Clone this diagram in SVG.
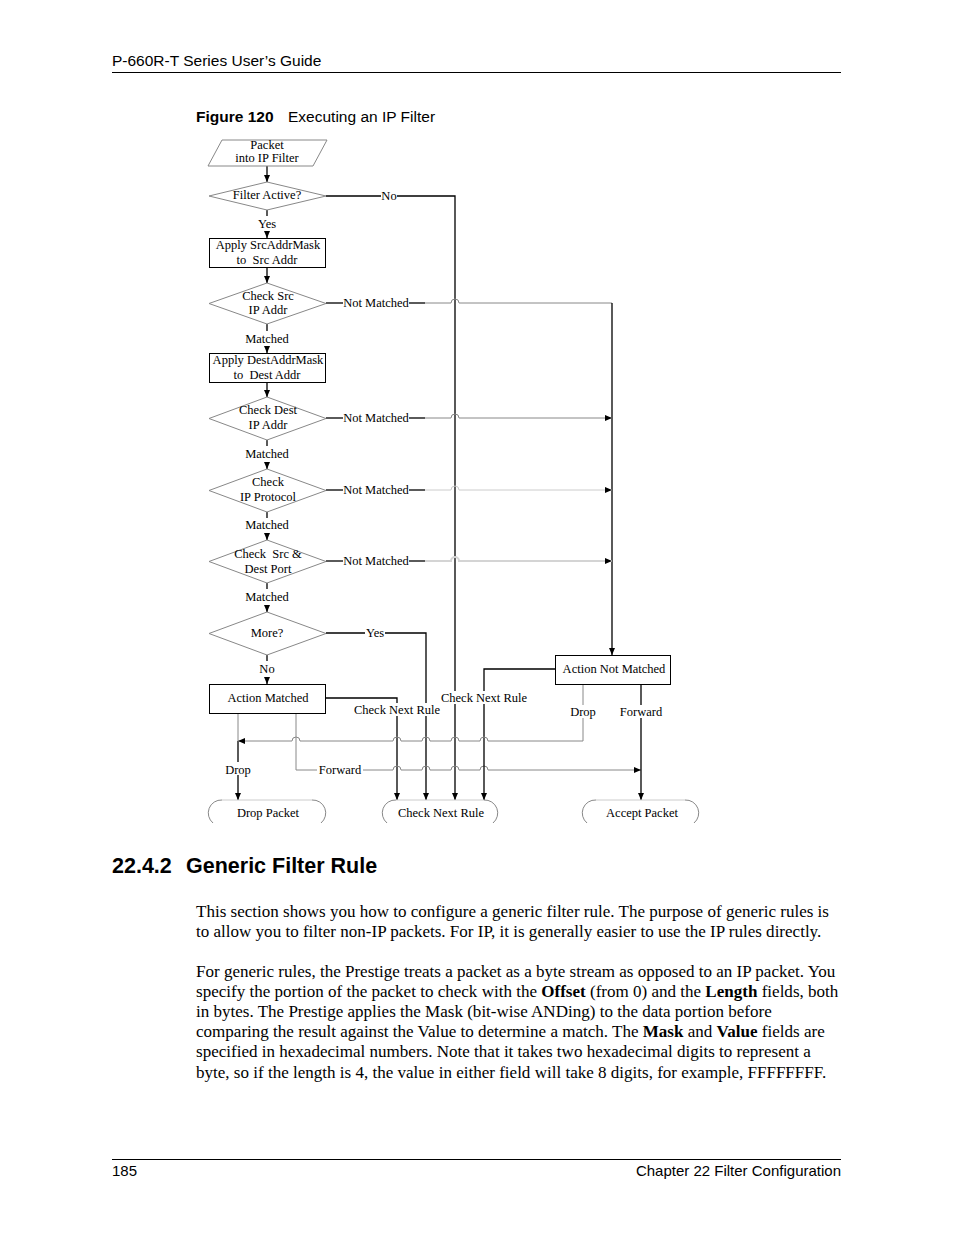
<svg xmlns="http://www.w3.org/2000/svg" width="954" height="1235" viewBox="0 0 954 1235">
<style>
.hdr{font-family:"Liberation Sans",Arial,sans-serif;font-size:15.5px;fill:#000}
.ftr{font-family:"Liberation Sans",Arial,sans-serif;font-size:15px;fill:#000}
.fc{font-family:"Liberation Serif","Times New Roman",serif;font-size:12.5px;fill:#000}
.body{font-family:"Liberation Serif","Times New Roman",serif;font-size:17.05px;fill:#000}
.shape{fill:#fff;stroke:#888;stroke-width:1}
.box{fill:#fff;stroke:#000;stroke-width:1}
.ln{fill:none;stroke:#000;stroke-width:1.3}
.gl{fill:none;stroke:#888;stroke-width:1}
.gl2{fill:none;stroke:#ccc;stroke-width:1}
.gl3{fill:none;stroke:#d4d4d4;stroke-width:2}
.term{fill:none;stroke:#888;stroke-width:1}
.termtop{fill:none;stroke:#ccc;stroke-width:1}
.bg{fill:#fff}
</style>
<defs>
<marker id="ah" markerWidth="7" markerHeight="6" refX="7" refY="3" orient="auto" markerUnits="userSpaceOnUse">
<path d="M0,0 L7,3 L0,6 Z" fill="#000"/>
</marker>
</defs>

<g id="header">
<text class="hdr" x="112" y="66">P-660R-T Series User’s Guide</text>
<line x1="112" y1="72.5" x2="841" y2="72.5" stroke="#000" stroke-width="1"/>
<text class="hdr" x="196" y="122" font-weight="bold">Figure 120</text>
<text class="hdr" x="288" y="122">Executing an IP Filter</text>
</g>

<g id="connectors">
<!-- main vertical flow -->
<line class="ln" x1="267" y1="166" x2="267" y2="182" marker-end="url(#ah)"/>
<line class="ln" x1="267" y1="210" x2="267" y2="216"/>
<line class="ln" x1="267" y1="232" x2="267" y2="238" marker-end="url(#ah)"/>
<line class="ln" x1="267" y1="268" x2="267" y2="283" marker-end="url(#ah)"/>
<line class="ln" x1="267" y1="324" x2="267" y2="331"/>
<line class="ln" x1="267" y1="347" x2="267" y2="353" marker-end="url(#ah)"/>
<line class="ln" x1="267" y1="383" x2="267" y2="397" marker-end="url(#ah)"/>
<line class="ln" x1="267" y1="440" x2="267" y2="446"/>
<line class="ln" x1="267" y1="463" x2="267" y2="469" marker-end="url(#ah)"/>
<line class="ln" x1="267" y1="512" x2="267" y2="518"/>
<line class="ln" x1="267" y1="534" x2="267" y2="540" marker-end="url(#ah)"/>
<line class="ln" x1="267" y1="583" x2="267" y2="589"/>
<line class="ln" x1="267" y1="606" x2="267" y2="612" marker-end="url(#ah)"/>
<line class="ln" x1="267" y1="655" x2="267" y2="661"/>
<line class="ln" x1="267" y1="678" x2="267" y2="684" marker-end="url(#ah)"/>

<!-- Filter Active? No -->
<line class="ln" x1="326" y1="196" x2="381" y2="196"/>
<polyline class="ln" points="397,196 455,196 455,800" marker-end="url(#ah)"/>

<!-- Not Matched lines -->
<line class="ln" x1="326" y1="303" x2="343" y2="303"/>
<line class="ln" x1="409" y1="303" x2="425" y2="303"/>
<path class="gl" d="M425,303 H451 A4,4 0 0 1 459,303 H612"/>
<line class="ln" x1="612" y1="303" x2="612" y2="655" marker-end="url(#ah)"/>

<line class="ln" x1="326" y1="418" x2="343" y2="418"/>
<line class="ln" x1="409" y1="418" x2="425" y2="418"/>
<path class="gl" d="M425,418 H451 A4,4 0 0 1 459,418 H612" marker-end="url(#ah)"/>

<line class="ln" x1="326" y1="490" x2="343" y2="490"/>
<line class="ln" x1="409" y1="490" x2="425" y2="490"/>
<path class="gl2" d="M425,490 H451 A4,4 0 0 1 459,490 H612" marker-end="url(#ah)"/>

<line class="ln" x1="326" y1="561" x2="343" y2="561"/>
<line class="ln" x1="409" y1="561" x2="425" y2="561"/>
<path class="gl3" d="M425,561 H451 A4,4 0 0 1 459,561 H612" marker-end="url(#ah)"/>

<!-- More? Yes -->
<line class="ln" x1="326" y1="633" x2="365" y2="633"/>
<polyline class="ln" points="385,633 426,633 426,800" marker-end="url(#ah)"/>

<!-- Action Matched: Check Next Rule -->
<polyline class="ln" points="326,698 397,698 397,800" marker-end="url(#ah)"/>
<!-- Action Matched: Drop -->
<line class="gl" x1="238" y1="713" x2="238" y2="741"/>
<line class="ln" x1="238" y1="741" x2="238" y2="800" marker-end="url(#ah)"/>
<!-- Action Matched: Forward -->
<path class="gl" d="M296,713 V770 H393 A4,4 0 0 1 401,770 H422 A4,4 0 0 1 430,770 H451 A4,4 0 0 1 459,770 H480 A4,4 0 0 1 488,770 H641" marker-end="url(#ah)"/>

<!-- Action Not Matched: Check Next Rule -->
<polyline class="ln" points="555,669 484,669 484,800" marker-end="url(#ah)"/>
<!-- Action Not Matched: Drop -->
<path class="gl" d="M583,684 V741 H488 A4,4 0 0 0 480,741 H459 A4,4 0 0 0 451,741 H430 A4,4 0 0 0 422,741 H401 A4,4 0 0 0 393,741 H300 A4,4 0 0 0 292,741 H238" marker-end="url(#ah)"/>
<!-- Action Not Matched: Forward -->
<line class="ln" x1="641" y1="684" x2="641" y2="800" marker-end="url(#ah)"/>

<!-- connector labels -->
<text class="fc" x="389" y="199.5" text-anchor="middle">No</text>
<text class="fc" x="267" y="228" text-anchor="middle">Yes</text>
<text class="fc" x="376" y="306.5" text-anchor="middle">Not Matched</text>
<text class="fc" x="267" y="343" text-anchor="middle">Matched</text>
<text class="fc" x="376" y="421.5" text-anchor="middle">Not Matched</text>
<text class="fc" x="267" y="458" text-anchor="middle">Matched</text>
<text class="fc" x="376" y="493.5" text-anchor="middle">Not Matched</text>
<text class="fc" x="267" y="529" text-anchor="middle">Matched</text>
<text class="fc" x="376" y="564.5" text-anchor="middle">Not Matched</text>
<text class="fc" x="267" y="601" text-anchor="middle">Matched</text>
<text class="fc" x="375" y="636.5" text-anchor="middle">Yes</text>
<text class="fc" x="267" y="673" text-anchor="middle">No</text>
<rect class="bg" x="353" y="703" width="89" height="13"/>
<text class="fc" x="397" y="714" text-anchor="middle">Check Next Rule</text>
<rect class="bg" x="440" y="691" width="88" height="13"/>
<text class="fc" x="484" y="702" text-anchor="middle">Check Next Rule</text>
<rect class="bg" x="569" y="705" width="29" height="13"/>
<text class="fc" x="583" y="716" text-anchor="middle">Drop</text>
<rect class="bg" x="618" y="705" width="46" height="13"/>
<text class="fc" x="641" y="716" text-anchor="middle">Forward</text>
<rect class="bg" x="224" y="762" width="29" height="13"/>
<text class="fc" x="238" y="774" text-anchor="middle">Drop</text>
<rect class="bg" x="317" y="763" width="46" height="13"/>
<text class="fc" x="340" y="774" text-anchor="middle">Forward</text>
</g>

<g id="packet-in">
<polygon class="shape" points="222,140 327,140 313,166 208,166"/>
<text class="fc" x="267" y="149" text-anchor="middle">Packet</text>
<text class="fc" x="267" y="162" text-anchor="middle">into IP Filter</text>
</g>

<g id="filter-active">
<polygon class="shape" points="209,196 267,182 326,196 267,210"/>
<text class="fc" x="267" y="199" text-anchor="middle">Filter Active?</text>
</g>

<g id="apply-src-mask">
<rect class="box" x="209.5" y="238.5" width="116" height="29"/>
<text class="fc" x="268" y="249" text-anchor="middle">Apply SrcAddrMask</text>
<text class="fc" x="267" y="264" text-anchor="middle">to&#160; Src Addr</text>
</g>

<g id="check-src">
<polygon class="shape" points="209,303.5 267,283 326,303.5 267,324"/>
<text class="fc" x="268" y="300" text-anchor="middle">Check Src</text>
<text class="fc" x="268" y="314" text-anchor="middle">IP Addr</text>
</g>

<g id="apply-dest-mask">
<rect class="box" x="209.5" y="353.5" width="116" height="29"/>
<text class="fc" x="268" y="364" text-anchor="middle">Apply DestAddrMask</text>
<text class="fc" x="267" y="379" text-anchor="middle">to&#160; Dest Addr</text>
</g>

<g id="check-dest">
<polygon class="shape" points="209,418.5 267,397 326,418.5 267,440"/>
<text class="fc" x="268" y="414" text-anchor="middle">Check Dest</text>
<text class="fc" x="268" y="429" text-anchor="middle">IP Addr</text>
</g>

<g id="check-protocol">
<polygon class="shape" points="209,490.5 267,469 326,490.5 267,512"/>
<text class="fc" x="268" y="486" text-anchor="middle">Check</text>
<text class="fc" x="268" y="501" text-anchor="middle">IP Protocol</text>
</g>

<g id="check-port">
<polygon class="shape" points="209,561.5 267,540 326,561.5 267,583"/>
<text class="fc" x="268" y="558" text-anchor="middle">Check&#160; Src &amp;</text>
<text class="fc" x="268" y="573" text-anchor="middle">Dest Port</text>
</g>

<g id="more">
<polygon class="shape" points="209,633.5 267,612 326,633.5 267,655"/>
<text class="fc" x="267" y="637" text-anchor="middle">More?</text>
</g>

<g id="action-matched">
<rect class="box" x="209.5" y="684.5" width="116" height="29"/>
<text class="fc" x="268" y="702" text-anchor="middle">Action Matched</text>
</g>

<g id="action-not-matched">
<rect class="box" x="555.5" y="655.5" width="115" height="29"/>
<text class="fc" x="614" y="673" text-anchor="middle">Action Not Matched</text>
</g>

<g id="drop-packet">
<line class="termtop" x1="222" y1="800" x2="312" y2="800"/>
<path class="term" d="M222,800 A13,13 0 0 0 213,823 M312,800 A13,13 0 0 1 321,823"/>
<text class="fc" x="268" y="817" text-anchor="middle">Drop Packet</text>
</g>

<g id="check-next-rule">
<line class="termtop" x1="396" y1="800" x2="484" y2="800"/>
<path class="term" d="M396,800 A13,13 0 0 0 387,823 M484,800 A13,13 0 0 1 493,823"/>
<text class="fc" x="441" y="817" text-anchor="middle">Check Next Rule</text>
</g>

<g id="accept-packet">
<line class="termtop" x1="596" y1="800" x2="685" y2="800"/>
<path class="term" d="M596,800 A13,13 0 0 0 587,823 M685,800 A13,13 0 0 1 694,823"/>
<text class="fc" x="642" y="817" text-anchor="middle">Accept Packet</text>
</g>

<g id="section">
<text x="112" y="873" font-family="'Liberation Sans',Arial,sans-serif" font-size="21.5" font-weight="bold">22.4.2</text>
<text x="186" y="873" font-family="'Liberation Sans',Arial,sans-serif" font-size="21.5" font-weight="bold">Generic Filter Rule</text>
<text class="body" x="196" y="917">This section shows you how to configure a generic filter rule. The purpose of generic rules is</text>
<text class="body" x="196" y="937">to allow you to filter non-IP packets. For IP, it is generally easier to use the IP rules directly.</text>
<text class="body" x="196" y="977">For generic rules, the Prestige treats a packet as a byte stream as opposed to an IP packet. You</text>
<text class="body" x="196" y="997">specify the portion of the packet to check with the <tspan font-weight="bold">Offset</tspan> (from 0) and the <tspan font-weight="bold">Length</tspan> fields, both</text>
<text class="body" x="196" y="1017">in bytes. The Prestige applies the Mask (bit-wise ANDing) to the data portion before</text>
<text class="body" x="196" y="1037">comparing the result against the Value to determine a match. The <tspan font-weight="bold">Mask</tspan> and <tspan font-weight="bold">Value</tspan> fields are</text>
<text class="body" x="196" y="1057">specified in hexadecimal numbers. Note that it takes two hexadecimal digits to represent a</text>
<text class="body" x="196" y="1078">byte, so if the length is 4, the value in either field will take 8 digits, for example, FFFFFFFF.</text>
</g>

<g id="footer">
<line x1="112" y1="1159.5" x2="841" y2="1159.5" stroke="#000" stroke-width="1"/>
<text class="ftr" x="112" y="1176">185</text>
<text class="ftr" x="841" y="1176" text-anchor="end">Chapter 22 Filter Configuration</text>
</g>
</svg>
